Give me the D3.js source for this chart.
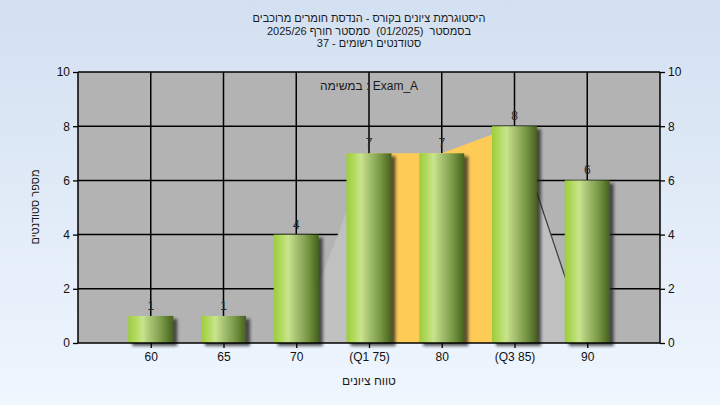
<!DOCTYPE html>
<html><head><meta charset="utf-8">
<script src="https://cdn.jsdelivr.net/npm/d3@7"></script>
<style>
html,body{margin:0;padding:0;}
svg{display:block;font-family:"Liberation Sans",Arial,sans-serif;}
.pre{white-space:pre;}
</style></head>
<body><svg id="c" width="720" height="405"></svg>
<script>
const categories = ["60","65","70","(Q1 75)","80","(Q3 85)","90"];
const counts = [1,1,4,7,7,8,6];
const areaValues = [null,null,0,7,7,8,0];
const yTicks = [0,2,4,6,8,10];
const titleLines = ["היסטוגרמת ציונים בקורס - הנדסת חומרים מרוכבים","בסמסטר  (01/2025)  סמסטר חורף 2025/26","סטודנטים רשומים - 37"];
const annotation = "במשימה : Exam_A";
const xTitle = "טווח ציונים";
const yTitle = "מספר סטודנטים";

const svg = d3.select("#c");
const W=720,H=405;
const L=78,R=660,T=72,B=343;
const defs = svg.append("defs");
const bg = defs.append("linearGradient").attr("id","bg").attr("x1",0).attr("y1",0).attr("x2",0).attr("y2",1);
bg.append("stop").attr("offset","0%").attr("stop-color","#d3e0f1");
bg.append("stop").attr("offset","100%").attr("stop-color","#eff6fe");
const bar = defs.append("linearGradient").attr("id","bar").attr("x1",0).attr("y1",0).attr("x2",1).attr("y2",0);
[["0%","#9ccd3c"],["12%","#acd654"],["32%","#c8e48c"],["50%","#a6c272"],["75%","#789846"],["100%","#46601c"]].forEach(s=>bar.append("stop").attr("offset",s[0]).attr("stop-color",s[1]));
const f = defs.append("filter").attr("id","sh").attr("x","-20%").attr("y","-20%").attr("width","150%").attr("height","150%");
f.append("feDropShadow").attr("dx",4).attr("dy",3).attr("stdDeviation",1.6).attr("flood-color","#222").attr("flood-opacity",0.75);

svg.append("rect").attr("width",W).attr("height",H).attr("fill","url(#bg)");

const x = d3.scalePoint().domain(categories).range([L,R]).padding(1);
const y = d3.scaleLinear().domain([0,10]).range([B,T]);

svg.append("rect").attr("x",L).attr("y",T).attr("width",R-L).attr("height",B-T).attr("fill","#b3b3b3");

// grid
const g = svg.append("g");
g.selectAll(".hg").data(yTicks.filter(d=>d>0)).join("line")
 .attr("x1",L).attr("x2",R).attr("y1",d=>y(d)).attr("y2",d=>y(d)).attr("stroke","#000").attr("stroke-width",1.5);
g.selectAll(".vg").data(categories).join("line")
 .attr("x1",d=>x(d)).attr("x2",d=>x(d)).attr("y1",T).attr("y2",B).attr("stroke","#000").attr("stroke-width",1.5);

// area
const pts = categories.map((c,i)=>({c,v:areaValues[i]})).filter(d=>d.v!==null);
const area = d3.area().x(d=>x(d.c)).y0(y(0)).y1(d=>y(d.v));
svg.append("path").datum(pts).attr("d",area).attr("fill","#c0c0c0");
const mid = pts.filter(d=>d.c==="(Q1 75)"||d.c==="80"||d.c==="(Q3 85)");
svg.append("path").datum(mid).attr("d",area).attr("fill","#fecb57");
const last2 = pts.slice(-2);
svg.append("path").datum(last2).attr("d",d3.line().x(d=>x(d.c)).y(d=>y(d.v))).attr("fill","none").attr("stroke","#3a3a3a").attr("stroke-width",1.2);

// bars
const bw = 45;
svg.append("g").selectAll("rect").data(counts).join("rect")
 .attr("x",(d,i)=>x(categories[i])-bw/2).attr("y",d=>y(d)).attr("width",bw).attr("height",d=>y(0)-y(d))
 .attr("fill","url(#bar)").attr("filter","url(#sh)");

// value labels
svg.append("g").selectAll("text").data(counts).join("text")
 .attr("x",(d,i)=>x(categories[i])).attr("y",d=>y(d)-6).attr("text-anchor","middle")
 .attr("font-size",12).attr("fill","#2a2a2a").text(d=>d);

// axes
const ya = d3.axisLeft(y).tickValues(yTicks).tickSize(5).tickPadding(3);
const yb = d3.axisRight(y).tickValues(yTicks).tickSize(5).tickPadding(3);
const xa = d3.axisBottom(x).tickSize(5).tickPadding(4);
function style(sel){sel.selectAll("text").attr("font-size",12).attr("fill","#111").attr("font-family","Liberation Sans, Arial, sans-serif");
 sel.selectAll("line").attr("stroke","#000").attr("stroke-width",1.3);
 sel.select(".domain").attr("stroke","#000").attr("stroke-width",1.5);}
svg.append("g").attr("transform",`translate(${L},0)`).call(ya).call(style).select(".domain").attr("d",`M0,${T}V${B}`);
svg.append("g").attr("transform",`translate(${R},0)`).call(yb).call(style).select(".domain").attr("d",`M0,${T}V${B}`);
svg.append("g").attr("transform",`translate(0,${B})`).call(xa).call(style).select(".domain").attr("d",`M${L},0H${R}`);

// titles
svg.append("g").selectAll("text").data(titleLines).join("text")
 .attr("class","pre")
 .attr("x",369).attr("y",(d,i)=>22+i*12.5).attr("text-anchor","middle").attr("font-size",11).attr("fill","#1a1a1a")
 .attr("direction","ltr").text(d=>d);
svg.append("text").attr("x",369).attr("y",90).attr("text-anchor","middle").attr("font-size",12).attr("fill","#1a1a1a").attr("direction","ltr").text(annotation);
svg.append("text").attr("x",369).attr("y",385).attr("text-anchor","middle").attr("font-size",12).attr("fill","#1a1a1a").text(xTitle);
svg.append("text").attr("transform","translate(39,207) rotate(-90)").attr("text-anchor","middle").attr("font-size",11).attr("fill","#1a1a1a").text(yTitle);
</script></body></html>
